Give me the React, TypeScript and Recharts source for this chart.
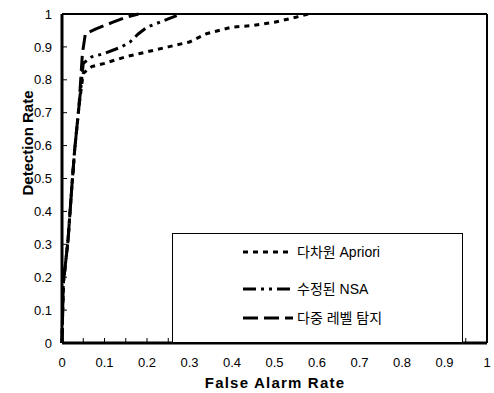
import React from 'react';
import {
  LineChart,
  Line,
  XAxis,
  YAxis,
  ReferenceLine,
} from 'recharts';

// x / y
const aprioriX = [0, 0.003, 0.014, 0.024, 0.03, 0.04, 0.05, 0.07, 0.1, 0.15, 0.2, 0.25, 0.3, 0.34, 0.4, 0.45, 0.5, 0.55, 0.58];
const aprioriY = [0, 0.18, 0.31, 0.49, 0.59, 0.72, 0.82, 0.84, 0.85, 0.87, 0.885, 0.9, 0.915, 0.94, 0.96, 0.965, 0.975, 0.99, 1.0];

const nsaX = [0, 0.003, 0.014, 0.024, 0.03, 0.04, 0.05, 0.07, 0.1, 0.14, 0.16, 0.18, 0.2, 0.25, 0.28];
const nsaY = [0, 0.18, 0.31, 0.49, 0.59, 0.72, 0.85, 0.87, 0.88, 0.9, 0.915, 0.94, 0.96, 0.985, 1.0];

const multiX = [0, 0.003, 0.014, 0.024, 0.03, 0.04, 0.048, 0.055, 0.08, 0.12, 0.15, 0.18];
const multiY = [0, 0.18, 0.31, 0.49, 0.59, 0.72, 0.88, 0.94, 0.955, 0.975, 0.99, 1.0];

const xTicks = [0, 0.05, 0.1, 0.15, 0.2, 0.25, 0.3, 0.35, 0.4, 0.45, 0.5, 0.55, 0.6, 0.65, 0.7, 0.75, 0.8, 0.85, 0.9, 0.95, 1];
const yTicks = [0, 0.1, 0.2, 0.3, 0.4, 0.5, 0.6, 0.7, 0.8, 0.9, 1];

const seriesNames = ['다차원 Apriori', '수정된 NSA', '다중 레벨 탐지'];
const dashes = ['5 5', '13 5 3 5 3 5', '15 6'];

const toPoints = (xs: number[], ys: number[]) => xs.map((x, i) => ({ x, y: ys[i] }));

const series = [
  toPoints(aprioriX, aprioriY),
  toPoints(nsaX, nsaY),
  toPoints(multiX, multiY),
];

const FONT = '"Liberation Sans", Arial, sans-serif';
const KFONT = '"Liberation Sans", "Noto Sans CJK KR", sans-serif';

const fmtX = (v: number) => {
  const r = Math.round(v * 100);
  if (r % 10 !== 0) return '';
  return r === 0 ? '0' : r === 100 ? '1' : (r / 100).toFixed(1);
};
const fmtY = (v: number) => (v === 0 ? '0' : v === 1 ? '1' : v.toFixed(1));

const legendRows = [252, 289, 318];

export default function App() {
  return (
    <div style={{ position: 'absolute', left: 0, top: 0, width: 494, height: 393, background: '#fff' }}>
      <LineChart width={494} height={393} margin={{ top: 14, right: 7, left: 0, bottom: 0 }}>
        <XAxis
          type="number"
          dataKey="x"
          domain={[0, 1]}
          ticks={xTicks}
          tickFormatter={fmtX}
          height={50}
          interval={0}
          allowDuplicatedCategory={false}
          tickSize={-5}
          tickMargin={20}
          axisLine={{ stroke: '#000', strokeWidth: 3 }}
          tickLine={{ stroke: '#000', strokeWidth: 1 }}
          tick={{ fontSize: 13, fill: '#000', fontFamily: FONT }}
          label={{
            content: () => (
              <text x={275} y={388} textAnchor="middle" fontSize={15} fontWeight="bold" letterSpacing={1.2} fontFamily={FONT} fill="#000">
                False Alarm Rate
              </text>
            ),
          }}
        />
        <YAxis
          type="number"
          domain={[0, 1]}
          ticks={yTicks}
          tickFormatter={fmtY}
          width={62}
          interval={0}
          tickSize={-5}
          tickMargin={15}
          axisLine={{ stroke: '#000', strokeWidth: 3 }}
          tickLine={{ stroke: '#000', strokeWidth: 1 }}
          tick={{ fontSize: 13, fill: '#000', fontFamily: FONT }}
          label={{
            content: () => (
              <text x={27} y={143} transform="rotate(-90 27 143)" textAnchor="middle" dominantBaseline="central" fontSize={15} fontWeight="bold" fontFamily={FONT} fill="#000">
                Detection Rate
              </text>
            ),
          }}
        />
        <ReferenceLine y={1} stroke="#000" strokeWidth={2} />
        <ReferenceLine x={1} stroke="#000" strokeWidth={2} />
        {series.map((data, i) => (
          <Line
            key={seriesNames[i]}
            data={data}
            dataKey="y"
            type="linear"
            stroke="#000"
            strokeWidth={3}
            strokeDasharray={dashes[i]}
            dot={false}
            isAnimationActive={false}
          />
        ))}
      </LineChart>
      <div
        style={{
          position: 'absolute',
          left: 172,
          top: 233,
          width: 289,
          height: 108,
          border: '1px solid #000',
          background: '#fff',
        }}
      />
      <svg style={{ position: 'absolute', left: 0, top: 0 }} width={494} height={393}>
        {seriesNames.map((name, i) => (
          <g key={name}>
            <line x1={243} x2={293} y1={legendRows[i]} y2={legendRows[i]} stroke="#000" strokeWidth={3} strokeDasharray={dashes[i]} />
            <text x={297} y={legendRows[i]} dominantBaseline="central" fontSize={14} fontFamily={KFONT} fill="#000">
              {name}
            </text>
          </g>
        ))}
      </svg>
    </div>
  );
}
